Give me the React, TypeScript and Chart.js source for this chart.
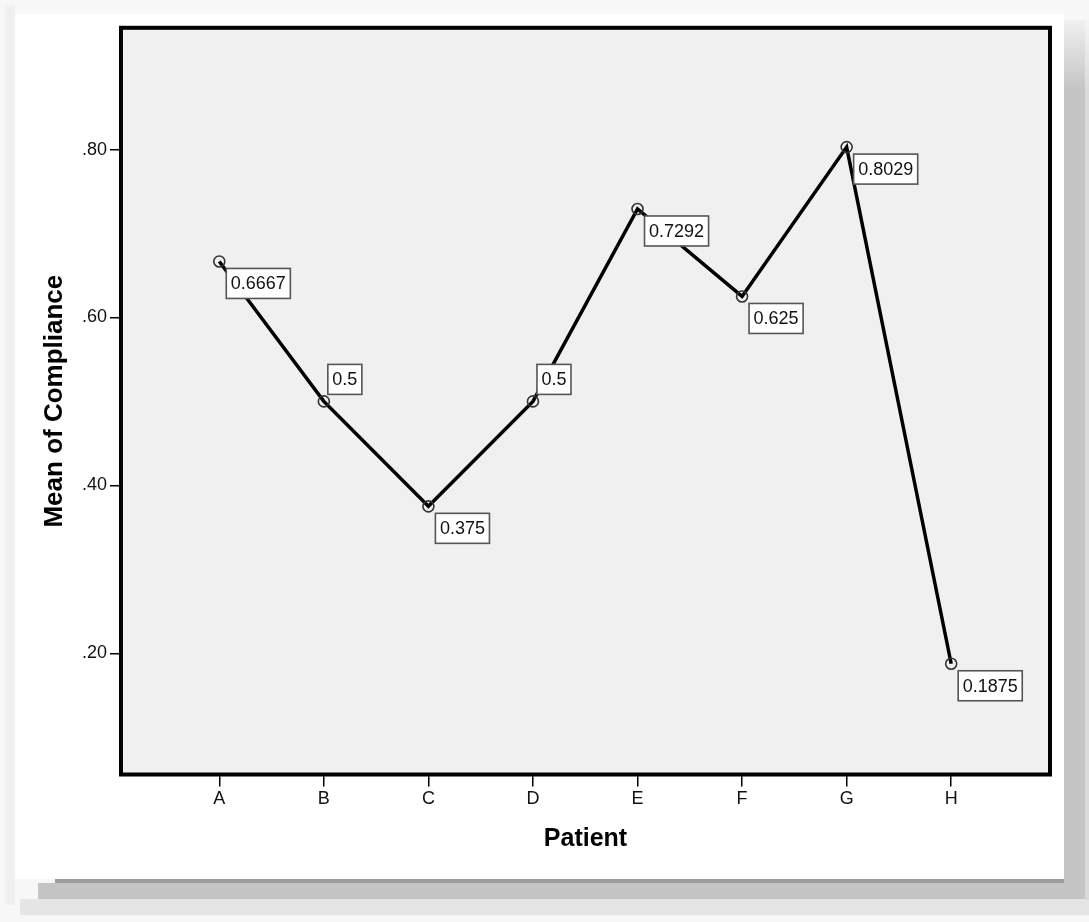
import React, { useEffect, useRef } from "react";
import { Chart, registerables } from "chart.js";

Chart.register(...registerables);

const categories: string[] = ["A", "B", "C", "D", "E", "F", "G", "H"];
const meanCompliance: number[] = [0.6667, 0.5, 0.375, 0.5, 0.7292, 0.625, 0.8029, 0.1875];
const valueLabels: string[] = ["0.6667", "0.5", "0.375", "0.5", "0.7292", "0.625", "0.8029", "0.1875"];
const yTickValues: number[] = [0.2, 0.4, 0.6, 0.8];

const FONT = "'Liberation Sans', Arial, Helvetica, sans-serif";

const frameAndLabels = {
  id: "frameAndLabels",
  beforeDatasetsDraw(chart: any) {
    const { ctx, chartArea } = chart;
    ctx.save();
    ctx.fillStyle = "#f0f0f0";
    ctx.fillRect(chartArea.left, chartArea.top, chartArea.right - chartArea.left, chartArea.bottom - chartArea.top);
    ctx.strokeStyle = "#000";
    ctx.lineWidth = 4;
    ctx.strokeRect(chartArea.left, chartArea.top, chartArea.right - chartArea.left, chartArea.bottom - chartArea.top);
    ctx.restore();
  },
  afterDatasetsDraw(chart: any, _args: any, opts: any) {
    const { ctx } = chart;
    const meta = chart.getDatasetMeta(0);
    const placement: string[] = opts.placement || [];
    ctx.save();
    ctx.font = `18px ${FONT}`;
    ctx.textBaseline = "middle";
    ctx.textAlign = "left";
    meta.data.forEach((pt: any, i: number) => {
      const text = valueLabels[i];
      const w = ctx.measureText(text).width + 9;
      const h = 30;
      let bx = pt.x + 7;
      let by = pt.y + 7;
      if (placement[i] === "above") {
        bx = pt.x + 4;
        by = pt.y - 7 - h;
      }
      ctx.fillStyle = "#ffffff";
      ctx.fillRect(bx, by, w, h);
      ctx.strokeStyle = "#555";
      ctx.lineWidth = 1.6;
      ctx.strokeRect(bx, by, w, h);
      ctx.fillStyle = "#111";
      ctx.fillText(text, bx + 4.5, by + h / 2 + 1);
    });
    ctx.restore();
  },
};

export default function App() {
  const ref = useRef<HTMLCanvasElement | null>(null);

  useEffect(() => {
    if (!ref.current) return;
    const chart = new Chart(ref.current, {
      type: "line",
      data: {
        datasets: [
          {
            data: meanCompliance.map((v, i) => ({ x: i, y: v })),
            borderColor: "#000",
            borderWidth: 3.5,
            pointRadius: 5.5,
            pointBorderColor: "#333",
            pointBorderWidth: 1.6,
            pointBackgroundColor: "rgba(0,0,0,0)",
            tension: 0,
          },
        ],
      },
      plugins: [frameAndLabels],
      options: {
        responsive: false,
        animation: false,
        devicePixelRatio: 1,
        layout: { padding: { left: 0, top: 12, right: 14, bottom: 0 } },
        plugins: {
          legend: { display: false },
          tooltip: { enabled: false },
          frameAndLabels: {
            placement: ["below", "above", "below", "above", "below", "below", "below", "below"],
          },
        } as any,
        scales: {
          x: {
            type: "linear",
            min: -0.94,
            max: 7.945,
            afterBuildTicks: (scale: any) => {
              scale.ticks = categories.map((_, i) => ({ value: i }));
            },
            afterFit: (scale: any) => {
              scale.height = 104.5;
            },
            ticks: {
              autoSkip: false,
              maxRotation: 0,
              padding: 2,
              color: "#111",
              font: { family: FONT, size: 18 },
              callback: (v: any) => categories[Number(v)] ?? "",
            },
            grid: {
              display: true,
              drawOnChartArea: false,
              drawTicks: true,
              tickLength: 12,
              color: "#000",
              lineWidth: 1.5,
            },
            border: { display: false },
            title: {
              display: true,
              text: "Patient",
              color: "#000",
              font: { family: FONT, size: 25, weight: "bold" },
              padding: { top: 0, bottom: 25 },
            },
          },
          y: {
            type: "linear",
            min: 0.0556,
            max: 0.945,
            afterBuildTicks: (scale: any) => {
              scale.ticks = yTickValues.map((v) => ({ value: v }));
            },
            afterFit: (scale: any) => {
              scale.width = 106;
            },
            ticks: {
              padding: 3,
              color: "#111",
              font: { family: FONT, size: 18 },
              callback: (v: any) => Number(v).toFixed(2).replace(/^0/, ""),
            },
            grid: {
              display: true,
              drawOnChartArea: false,
              drawTicks: true,
              tickLength: 11,
              color: "#000",
              lineWidth: 1.5,
            },
            border: { display: false },
            title: {
              display: true,
              text: "Mean of Compliance",
              color: "#000",
              font: { family: FONT, size: 26, weight: "bold" },
              padding: { top: 24, bottom: 0 },
            },
          },
        },
      } as any,
    });
    return () => chart.destroy();
  }, []);

  return (
    <div
      style={{
        position: "fixed",
        left: 0,
        top: 0,
        width: 1089,
        height: 922,
        background: "#f7f7f7",
        overflow: "hidden",
      }}
    >
      <div style={{ position: "absolute", left: 5, top: 5, width: 10, height: 900, background: "#f0f0f0" }} />
      <div style={{ position: "absolute", left: 20, top: 899, width: 1069, height: 16, background: "#e5e5e5" }} />
      <div style={{ position: "absolute", left: 38, top: 883, width: 1051, height: 16, background: "#c4c4c4" }} />
      <div style={{ position: "absolute", left: 55, top: 879, width: 1009, height: 4, background: "#9d9d9d" }} />
      <div
        style={{
          position: "absolute",
          left: 1064,
          top: 20,
          width: 21,
          height: 863,
          background: "linear-gradient(to bottom, #f0f0f0 0px, #c4c4c4 70px)",
        }}
      />
      <div
        style={{
          position: "absolute",
          left: 1085,
          top: 20,
          width: 4,
          height: 880,
          background: "linear-gradient(to bottom, #f5f5f5 0px, #dadada 70px)",
        }}
      />
      <div
        style={{
          position: "absolute",
          left: 15,
          top: 14,
          width: 1049,
          height: 865,
          background: "#ffffff",
        }}
      >
        <canvas ref={ref} width={1049} height={865} style={{ width: 1049, height: 865, display: "block" }} />
      </div>
    </div>
  );
}
